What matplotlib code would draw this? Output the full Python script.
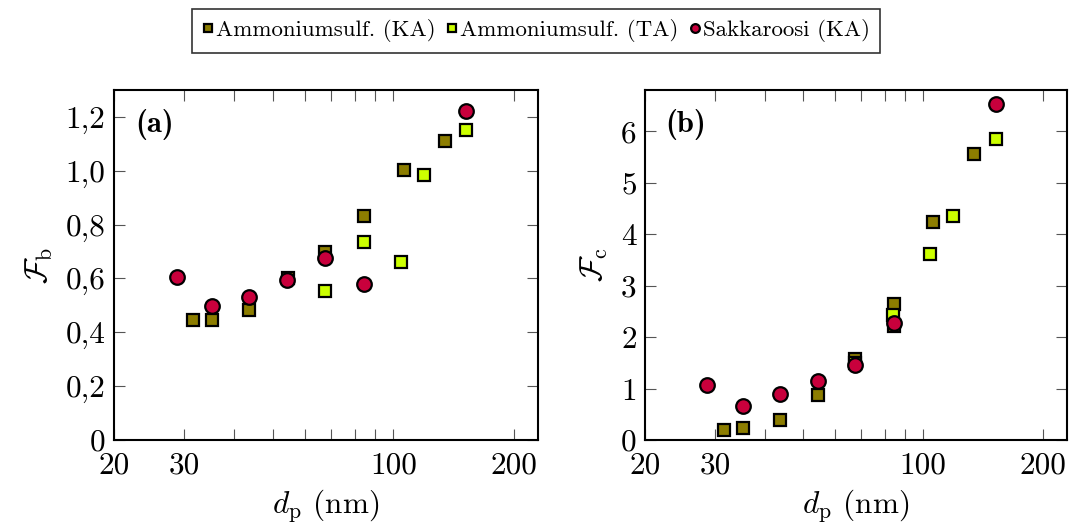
import matplotlib
matplotlib.use('Agg')
import matplotlib.pyplot as plt

plt.rcParams['font.family'] = 'serif'
plt.rcParams['font.serif'] = ['cmr10']
plt.rcParams['mathtext.fontset'] = 'cm'
plt.rcParams['axes.unicode_minus'] = False

# data
ka_x_a = [31.6, 35.2, 43.6, 54.5, 67.3, 84.3, 106, 134.3]
ka_fb = [0.445, 0.447, 0.484, 0.600, 0.697, 0.833, 1.003, 1.111]
ka_x_c = [31.6, 35.2, 43.6, 54.5, 67.3, 84.3, 84.3, 106, 134.3]
ka_fc = [0.195, 0.227, 0.396, 0.877, 1.58, 2.645, 2.22, 4.24, 5.555]

ta_x = [67.3, 84.2, 104.2, 119.2, 152.2]
ta_fb = [0.553, 0.737, 0.660, 0.984, 1.150]
ta_fc = [1.50, 2.437, 3.62, 4.35, 5.84]

sak_x = [28.7, 35.2, 43.6, 54.3, 67.3, 84.3, 152.2]
sak_fb = [0.607, 0.496, 0.533, 0.596, 0.675, 0.581, 1.223]
sak_fc = [1.072, 0.663, 0.903, 1.137, 1.455, 2.27, 6.53]

fb_ticks = [0, 0.2, 0.4, 0.6, 0.8, 1.0, 1.2]
fb_labels = ['0', '0,2', '0,4', '0,6', '0,8', '1,0', '1,2']
fc_ticks = [0, 1, 2, 3, 4, 5, 6]
x_ticks = [20, 30, 40, 50, 60, 70, 80, 90, 100, 200]
x_labels = ['20', '30', '', '', '', '', '', '', '100', '200']

c_ka = '#8c7d00'
c_ta = '#ccff00'
c_sak = '#c8003c'

fig = plt.figure(figsize=(10.73, 5.30), dpi=100)
ax1 = fig.add_axes([0.1062, 0.1698, 0.3952, 0.6604])
ax2 = fig.add_axes([0.6011, 0.1698, 0.3933, 0.6604])

def draw(ax, ka_x, ka_y, ta_y, sak_y):
    ax.plot(ka_x, ka_y, 's', ms=9, mfc=c_ka, mec='black', mew=1.6,
            label='Ammoniumsulf. (KA)', clip_on=False)
    ax.plot(ta_x, ta_y, 's', ms=9, mfc=c_ta, mec='black', mew=1.6,
            label='Ammoniumsulf. (TA)', clip_on=False)
    ax.plot(sak_x, sak_y, 'o', ms=10.5, mfc=c_sak, mec='black', mew=1.6,
            label='Sakkaroosi (KA)', clip_on=False)
    ax.set_xscale('log')
    ax.set_xlim(20, 230)
    ax.set_xticks(x_ticks)
    ax.set_xticklabels(x_labels)
    ax.minorticks_off()
    ax.tick_params(axis='both', which='both', direction='in', top=True,
                   right=True, length=8, width=0.8, color='#555555',
                   labelsize=22.5, pad=6)
    ax.tick_params(axis='x', pad=8)
    for s in ax.spines.values():
        s.set_linewidth(1.5)
    ax.set_xlabel(r'$d_\mathrm{p}$ (nm)', fontsize=22.5, labelpad=6)

draw(ax1, ka_x_a, ka_fb, ta_fb, sak_fb)
ax1.set_ylim(0, 1.3)
ax1.set_yticks(fb_ticks)
ax1.set_yticklabels(fb_labels)
ax1.set_ylabel(r'$\mathcal{F}_\mathrm{b}$', fontsize=22.5, labelpad=8)
ax1.text(0.05, 0.945, '(a)', transform=ax1.transAxes, family='cmb10',
         fontsize=22, ha='left', va='top')

draw(ax2, ka_x_c, ka_fc, ta_fc, sak_fc)
ax2.set_ylim(0, 6.8)
ax2.set_yticks(fc_ticks)
ax2.set_yticklabels([str(t) for t in fc_ticks])
ax2.set_ylabel(r'$\mathcal{F}_\mathrm{c}$', fontsize=22.5, labelpad=8)
ax2.text(0.047, 0.945, '(b)', transform=ax2.transAxes, family='cmb10',
         fontsize=22, ha='left', va='top')

handles, labels = ax1.get_legend_handles_labels()
leg = fig.legend(handles, labels, loc='center', bbox_to_anchor=(0.4995, 0.942),
                 ncol=3, fontsize=16.5, frameon=True, fancybox=False,
                 markerscale=0.6, handlelength=0.5, handletextpad=0.12,
                 columnspacing=0.45, borderpad=0.45, borderaxespad=0)
leg.get_frame().set_edgecolor('black')
leg.get_frame().set_linewidth(1.2)

fig.savefig('out.png', dpi=100)
